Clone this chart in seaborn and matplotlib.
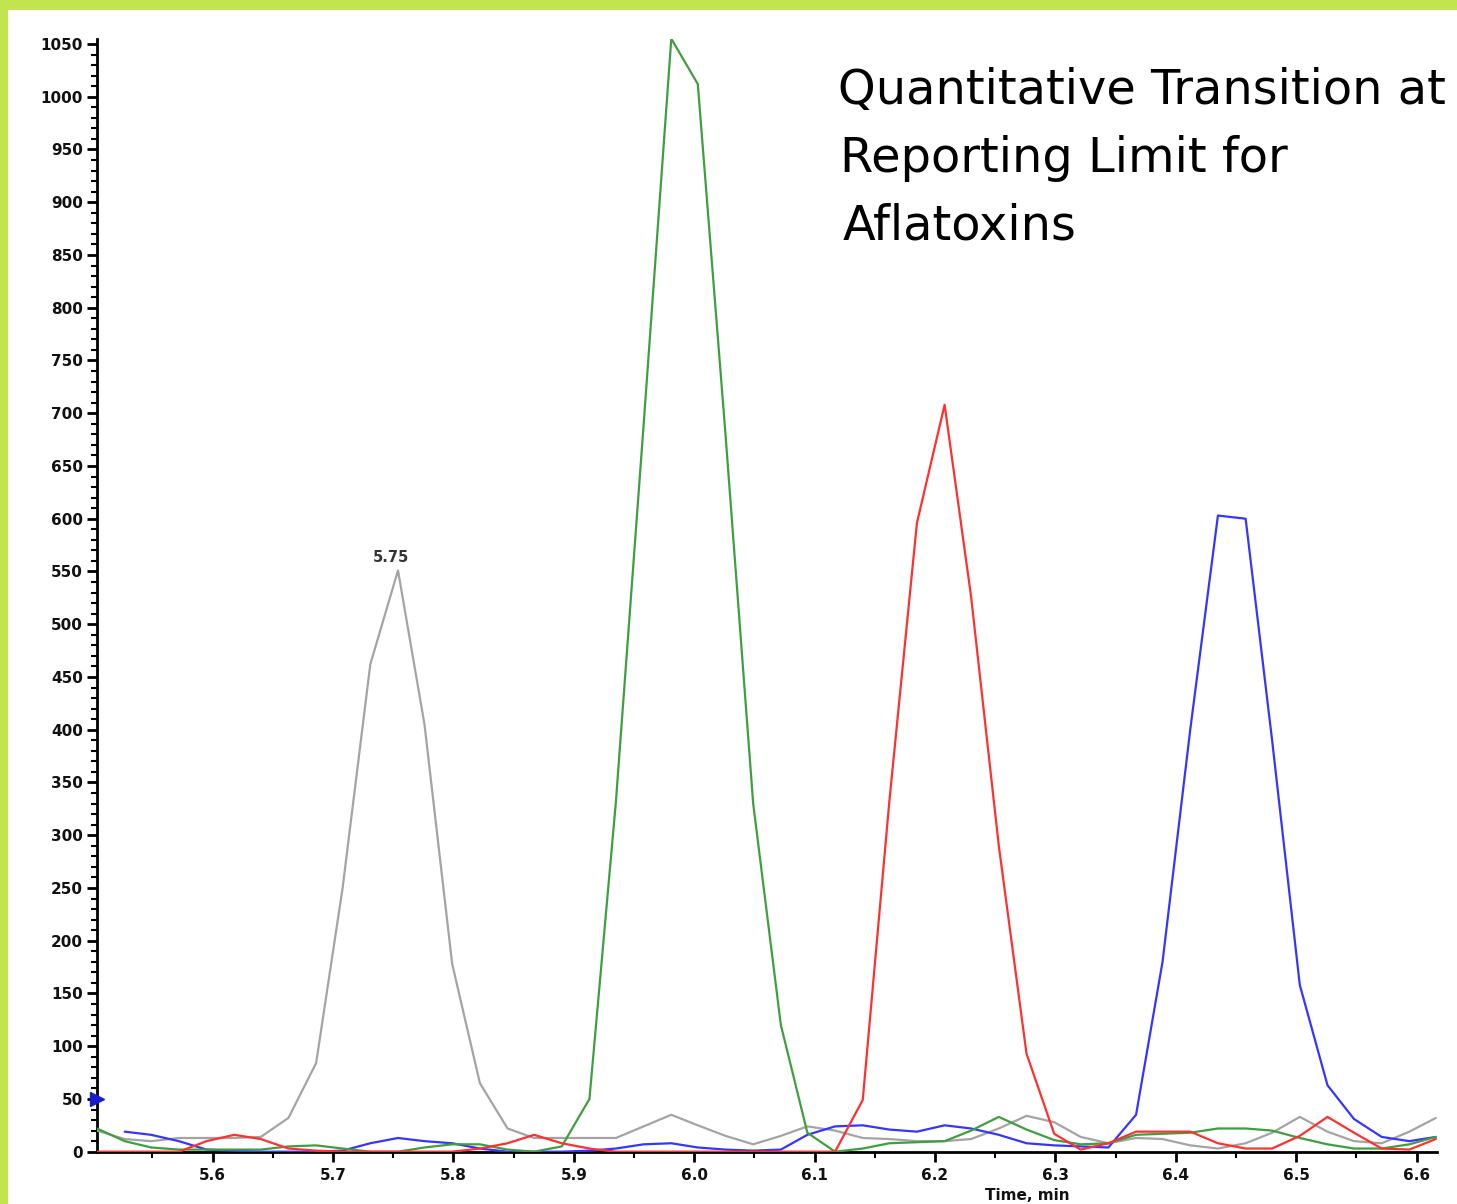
import numpy as np
import pandas as pd
import matplotlib
matplotlib.use("Agg")
import matplotlib.pyplot as plt
import seaborn as sns
from matplotlib.patches import Rectangle
from matplotlib.ticker import MultipleLocator, FormatStrFormatter

# ---------------- data ----------------
time_min = [5.504, 5.527, 5.549, 5.572, 5.595, 5.618, 5.640, 5.663, 5.686, 5.708,
            5.731, 5.754, 5.776, 5.799, 5.822, 5.845, 5.867, 5.890, 5.913, 5.935,
            5.958, 5.981, 6.003, 6.026, 6.049, 6.072, 6.094, 6.117, 6.140, 6.162,
            6.185, 6.208, 6.230, 6.253, 6.276, 6.299, 6.321, 6.344, 6.367, 6.389,
            6.412, 6.435, 6.458, 6.480, 6.503, 6.526, 6.548, 6.571, 6.594, 6.616]

gray_trace = [20, 12, 10, 13, 13, 13, 14, 32, 84, 250,
              462, 551, 405, 178, 65, 22, 13, 13, 13, 13,
              24, 35, 25, 15, 7, 15, 24, 20, 13, 12,
              10, 10, 12, 22, 34, 28, 14, 8, 13, 12,
              6, 3, 8, 18, 33, 19, 10, 8, 19, 32]

green_trace = [22, 10, 4, 2, 2, 2, 2, 5, 6, 3,
               0, 0, 4, 7, 7, 2, 0, 5, 50, 332,
               689, 1055, 1012, 680, 330, 120, 18, 0, 3, 8,
               9, 10, 20, 33, 21, 11, 7, 8, 16, 17,
               18, 22, 22, 20, 13, 7, 3, 3, 7, 14]

red_trace = [0, 0, 0, 0, 10, 16, 12, 3, 1, 0,
             0, 0, 0, 0, 3, 8, 16, 8, 3, 0,
             0, 0, 0, 0, 0, 0, 0, 0, 49, 331,
             596, 708, 526, 290, 93, 17, 2, 8, 19, 19,
             19, 8, 3, 3, 15, 33, 18, 3, 2, 12]

blue_trace = [np.nan, 19, 16, 10, 2, 1, 0, 0, 0, 1,
              8, 13, 10, 8, 3, 0, 0, 0, 1, 3,
              7, 8, 4, 2, 1, 2, 16, 24, 25, 21,
              19, 25, 22, 16, 8, 6, 5, 4, 35, 180,
              400, 603, 600, 390, 158, 63, 31, 14, 10, 14]

trace_names = ["gray", "blue", "green", "red"]
trace_colors = {"gray": "#a4a4a4", "blue": "#3535ff", "green": "#3f9f3f", "red": "#ff3030"}

y_ticks = list(range(0, 1051, 50))
x_ticks = [5.6, 5.7, 5.8, 5.9, 6.0, 6.1, 6.2, 6.3, 6.4, 6.5, 6.6]
peak_label = "5.75"
title_lines = ["Quantitative Transition at", "Reporting Limit for", "Aflatoxins"]
x_label = "Time, min"

# ---------------- build long table ----------------
series = {"gray": gray_trace, "blue": blue_trace, "green": green_trace, "red": red_trace}
df = pd.concat([pd.DataFrame({"time": time_min, "intensity": series[n], "trace": n})
                for n in trace_names], ignore_index=True)

# ---------------- figure ----------------
sns.set_style("white")
plt.rcParams['font.family'] = ['DejaVu Sans']

W, H = 1457, 1204
fig = plt.figure(figsize=(W / 100, H / 100), dpi=100, facecolor="#c2e44e")
fig.patches.append(Rectangle((8 / W, 0), 1 - 8 / W, 1 - 10 / H, transform=fig.transFigure,
                             facecolor="white", edgecolor="none", zorder=-10))

x0, x1 = 97, 1436.7
y_top, y_bot = 38.7, 1151.7
ax = fig.add_axes([x0 / W, 1 - y_bot / H, (x1 - x0) / W, (y_bot - y_top) / H])
ax.set_zorder(2)
ax.patch.set_alpha(0)

sns.lineplot(data=df, x="time", y="intensity", hue="trace", hue_order=trace_names,
             palette=trace_colors, legend=False, ax=ax, linewidth=1.6,
             estimator=None, sort=False, zorder=3)

ax.set_xlim(5.504, 6.6167)
ax.set_ylim(0, 1055)

for s in ["top", "right"]:
    ax.spines[s].set_visible(False)
for s in ["left", "bottom"]:
    ax.spines[s].set_color("black")
    ax.spines[s].set_linewidth(2)

ax.set_yticks(y_ticks)
ax.set_xticks(x_ticks)
ax.yaxis.set_minor_locator(MultipleLocator(10))
ax.xaxis.set_minor_locator(MultipleLocator(0.05))
ax.xaxis.set_major_formatter(FormatStrFormatter("%.1f"))
ax.tick_params(which="both", left=True, bottom=True, top=False, right=False)
ax.tick_params(which="major", direction="out", length=7, width=2, color="black",
               labelsize=11, labelcolor="#111111")
ax.tick_params(which="minor", direction="out", length=4, width=1.5, color="black")
ax.tick_params(axis="y", which="major", pad=3)
ax.tick_params(axis="x", which="major", pad=5)
for lab in ax.get_xticklabels() + ax.get_yticklabels():
    lab.set_fontweight("bold")

ax.set_xlabel("")
ax.set_ylabel("")

# peak label
ax.text(5.748, 563, peak_label, ha="center", va="center", fontsize=10.5,
        fontweight="bold", color="#333333")

# blue threshold marker at 50
ax.plot([5.504], [50], marker=">", color="#1a1acc", markersize=10, clip_on=False, zorder=6,
        linestyle="none")

# x-axis title
fig.text(1027 / W, 1 - 1195 / H, x_label, ha="center", va="center", fontsize=11,
         fontweight="bold", color="#111111")

# title block
baselines = [104, 172, 240]
lefts = [838, 840, 843]
for line, b, l in zip(title_lines, baselines, lefts):
    fig.text(l / W, 1 - b / H, line, ha="left", va="baseline", fontsize=34.5, color="black")

fig.savefig("out.png", dpi=100, facecolor=fig.get_facecolor())
